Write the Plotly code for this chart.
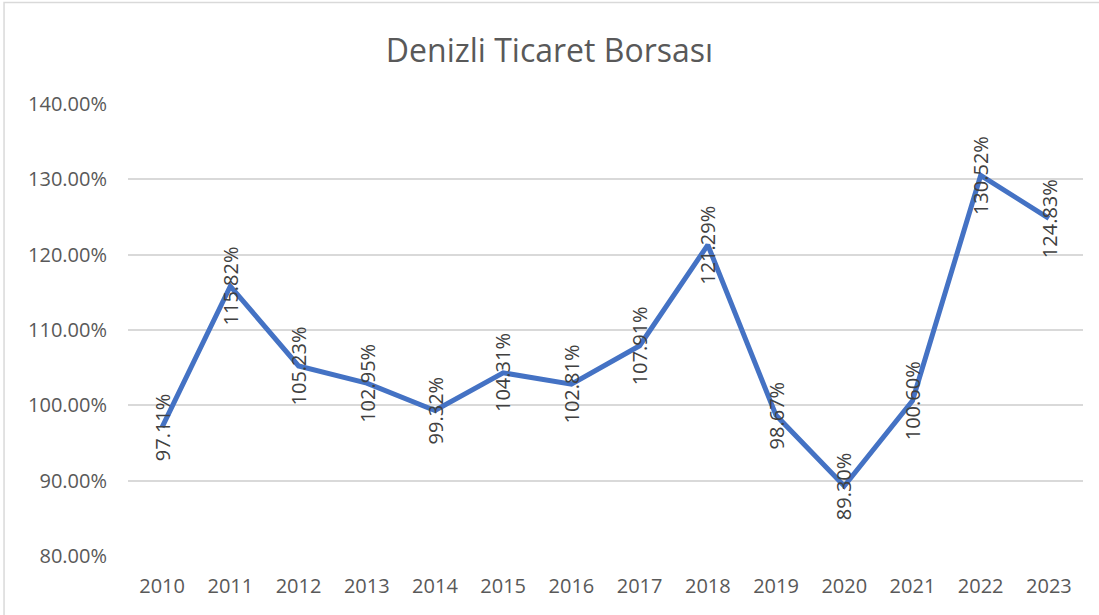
import plotly.graph_objects as go

years = ["2010", "2011", "2012", "2013", "2014", "2015", "2016",
         "2017", "2018", "2019", "2020", "2021", "2022", "2023"]
values = [0.9711, 1.1582, 1.0523, 1.0295, 0.9932, 1.0431, 1.0281,
          1.0791, 1.2129, 0.9867, 0.8930, 1.0060, 1.3052, 1.2483]
labels = ["97.11%", "115.82%", "105.23%", "102.95%", "99.32%", "104.31%", "102.81%",
          "107.91%", "121.29%", "98.67%", "89.30%", "100.60%", "130.52%", "124.83%"]

font_family = "Open Sans, Noto Sans, sans-serif"

fig = go.Figure()
fig.add_trace(go.Scatter(
    x=years, y=values, mode="lines",
    line=dict(color="#4472C4", width=5),
    hoverinfo="x+y",
))

for i, (y, t) in enumerate(zip(values, labels)):
    fig.add_annotation(
        x=i, y=y, xref="x", yref="y", text=t, textangle=-90,
        showarrow=False, xanchor="center", yanchor="middle",
        font=dict(family=font_family, size=20, color="#404040"),
    )

fig.add_shape(type="rect", xref="paper", yref="paper",
              x0=-0.1298, x1=1.05, y0=-0.2, y1=1.2245,
              line=dict(color="#D9D9D9", width=1.5), fillcolor="rgba(0,0,0,0)",
              layer="below")

fig.update_layout(
    width=1099, height=615,
    margin=dict(l=128, r=16, t=104, b=59, autoexpand=False),
    paper_bgcolor="white", plot_bgcolor="white",
    showlegend=False,
    title=dict(text="Denizli Ticaret Borsası", x=0.5, xanchor="center",
               y=0.918, yanchor="middle",
               font=dict(family=font_family, size=32, color="#595959")),
    font=dict(family=font_family, color="#595959"),
    xaxis=dict(type="category", range=[-0.5, 13.5], showgrid=False, showline=False,
               zeroline=False, ticks="", ticklabelstandoff=16, automargin=False,
               tickfont=dict(size=20, color="#595959")),
    yaxis=dict(range=[0.8, 1.4], dtick=0.1, tick0=0.8, tickformat=".2%",
               showgrid=True, gridcolor="#D9D9D9", gridwidth=1.5,
               zeroline=False, showline=False, ticks="", ticklabelstandoff=20,
               automargin=False,
               tickfont=dict(size=20, color="#595959")),
)

fig.write_html("out.html",
               config={"displayModeBar": False},
               post_script="document.body.style.margin='0';document.body.style.overflow='hidden';")
